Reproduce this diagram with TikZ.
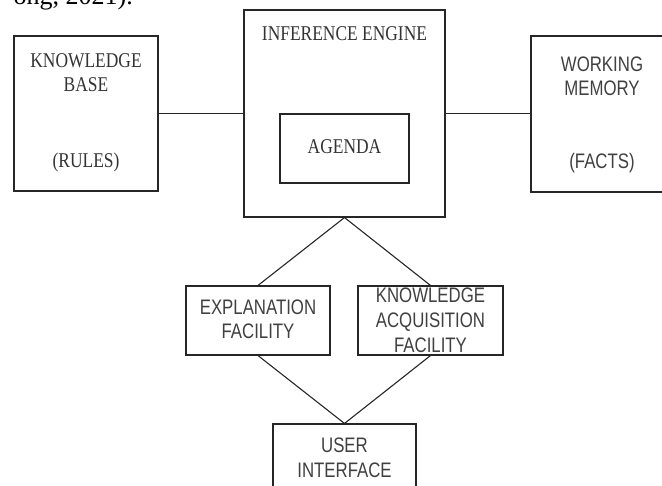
\documentclass[tikz,border=0pt]{standalone}
\usepackage{fontspec}
\newfontfamily\dserif[FakeStretch=0.83]{Liberation Serif}
\newfontfamily\dsans[FakeStretch=0.8]{Liberation Sans}
\newfontfamily\dbody{Liberation Serif}
\begin{document}
\begin{tikzpicture}[x=1pt,y=-1pt,
  box/.style={draw=black!85, line width=1.1pt, inner sep=0pt},
  stxt/.style={text=black!80, align=center, inner sep=0pt, font=\dserif\fontsize{21}{24}\selectfont},
  atxt/.style={text=black!75, align=center, inner sep=0pt, font=\dsans\fontsize{21}{24}\selectfont},
  link/.style={draw=black!85, line width=1.1pt}]
\useasboundingbox (0,0) rectangle (662,486);
\clip (0,0) rectangle (662,486);
\node[anchor=base east, inner sep=0pt, font=\dbody\fontsize{26}{30}\selectfont] (cite) at (133,5) {ong, 2021).};
% boxes
\node[box, minimum width=144pt, minimum height=155pt] (kb) at (86,113.5) {};
\node[box, minimum width=201pt, minimum height=207pt] (ie) at (344.5,113.5) {};
\node[box, minimum width=129pt, minimum height=69pt] (ag) at (344.5,148.5) {};
\node[box, minimum width=144pt, minimum height=156pt] (wm) at (603,114) {};
\node[box, minimum width=144pt, minimum height=69pt] (ex) at (258,320.5) {};
\node[box, minimum width=145pt, minimum height=69pt] (ka) at (430.5,320.5) {};
\node[box, minimum width=143pt, minimum height=69pt] (ui) at (344.5,458.5) {};
% texts
\node[stxt] (kbt) at (86,72.5) {KNOWLEDGE\\BASE};
\node[stxt] (kbr) at (86,162) {(RULES)};
\node[stxt] (iet) at (344.5,34) {INFERENCE ENGINE};
\node[stxt] (agt) at (344.5,147) {AGENDA};
\node[atxt] (wmt) at (602,76.5) {WORKING\\MEMORY};
\node[atxt] (wmf) at (602,163) {(FACTS)};
\node[atxt] (ext) at (258,319.5) {EXPLANATION\\FACILITY};
\node[atxt, font=\dsans\fontsize{21}{25}\selectfont] (kat) at (430.5,320) {KNOWLEDGE\\ACQUISITION\\FACILITY};
\node[atxt, font=\dsans\fontsize{21}{25}\selectfont] (uit) at (344.5,457.5) {USER\\INTERFACE};
% connectors
\draw[link] (kb.east) -- (ie.west);
\draw[link] (ie.east) -- (ie.east -| wm.west);
\draw[link] (ie.south) -- (ex.north);
\draw[link] (ie.south) -- (ka.north);
\draw[link] (ex.south) -- (ui.north);
\draw[link] (ka.south) -- (ui.north);
\end{tikzpicture}
\end{document}
